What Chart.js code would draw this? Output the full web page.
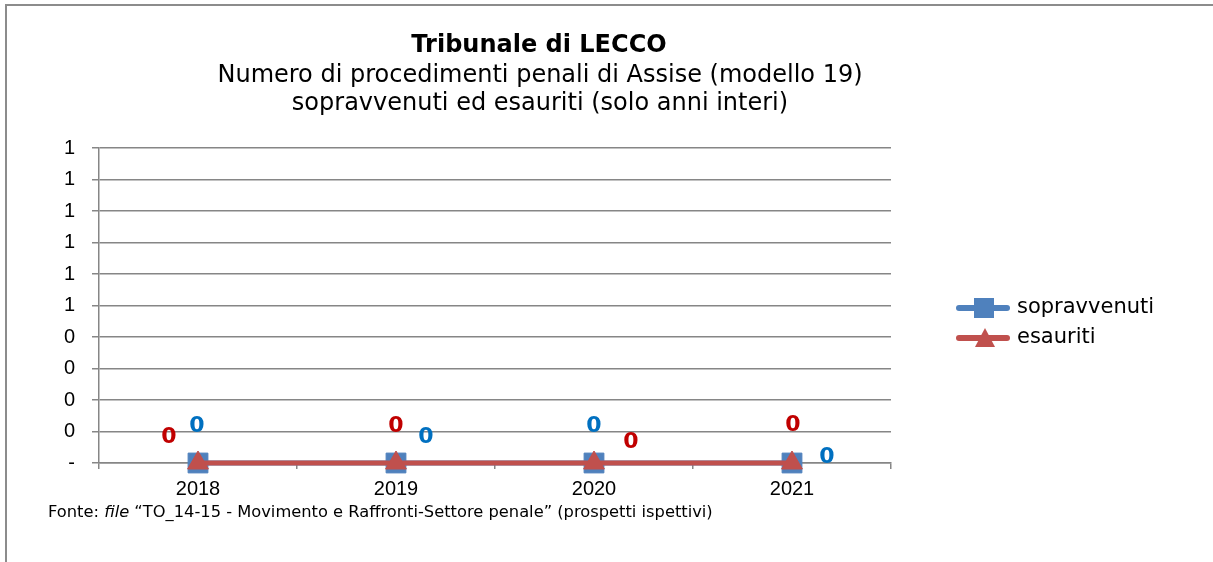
<!DOCTYPE html>
<html><head><meta charset="utf-8">
<script src="https://cdn.jsdelivr.net/npm/chart.js@4/dist/chart.umd.min.js"></script>
<style>html,body{margin:0;padding:0;background:#fff;} canvas{display:block;}</style>
</head><body><canvas id="c" width="1213" height="562"></canvas>
<script>
const categories = ['2018', '2019', '2020', '2021'];
const sopravvenuti = [0, 0, 0, 0];
const esauriti = [0, 0, 0, 0];
const yTickLabels = ['-', '0', '0', '0', '0', '1', '1', '1', '1', '1', '1'];
const seriesNames = ['sopravvenuti', 'esauriti'];
const titleText = 'Tribunale di LECCO';
const subtitleLines = ['Numero di procedimenti penali di Assise (modello 19)', 'sopravvenuti ed esauriti (solo anni interi)'];
const footParts = [['Fonte: ', ''], ['file', 'italic '], [' \u201CTO_14-15 - Movimento e Raffronti-Settore penale\u201D (prospetti ispettivi)', '']];

const BLUE = '#4F81BD', RED = '#C0504D';
const LBLUE = '#0070C0', LRED = '#C00000';
const GRID = '#868686';

const labelOffsets = {
  0: [[-1, -37], [30, -26], [0, -37], [35, -6]],
  1: [[-29, -26], [0, -37], [37, -21], [1, -38]]
};
const labelColors = [LBLUE, LRED];

const decor = {
  id: 'decor',
  beforeDraw(chart) {
    const ctx = chart.ctx;
    ctx.save();
    ctx.fillStyle = '#fff';
    ctx.fillRect(0, 0, chart.width, chart.height);
    ctx.strokeStyle = '#8c8c8c';
    ctx.lineWidth = 2;
    ctx.beginPath();
    ctx.moveTo(6, 563); ctx.lineTo(6, 5); ctx.lineTo(1213, 5);
    ctx.stroke();
    ctx.restore();
  },
  afterDatasetsDraw(chart) {
    const ctx = chart.ctx;
    ctx.save();
    ctx.font = 'bold 22px "DejaVu Sans", sans-serif';
    ctx.textAlign = 'center';
    ctx.textBaseline = 'middle';
    [1, 0].forEach(di => {
      const meta = chart.getDatasetMeta(di);
      const ds = chart.data.datasets[di];
      meta.data.forEach((pt, i) => {
        const off = labelOffsets[di][i];
        ctx.fillStyle = labelColors[di];
        ctx.fillText(String(Math.round(ds.data[i])), pt.x + off[0], pt.y + off[1]);
      });
    });
    ctx.restore();
  },
  afterDraw(chart) {
    const ctx = chart.ctx;
    ctx.save();
    ctx.fillStyle = '#000';
    ctx.textAlign = 'center';
    ctx.textBaseline = 'middle';
    ctx.font = 'bold 24px "DejaVu Sans", sans-serif';
    ctx.fillText(titleText, 539, 46);
    ctx.font = '24px "DejaVu Sans", sans-serif';
    subtitleLines.forEach((t, i) => ctx.fillText(t, 540, 76 + i * 28));

    // legend
    const colors = [BLUE, RED];
    seriesNames.forEach((name, i) => {
      const y = 308 + i * 30;
      ctx.strokeStyle = colors[i];
      ctx.lineWidth = 6;
      ctx.lineCap = 'round';
      ctx.beginPath(); ctx.moveTo(959, y); ctx.lineTo(1007, y); ctx.stroke();
      ctx.fillStyle = colors[i];
      if (i === 0) {
        ctx.fillRect(974, y - 10, 20, 20);
      } else {
        ctx.beginPath();
        ctx.moveTo(985, y - 10); ctx.lineTo(995, y + 9); ctx.lineTo(975, y + 9); ctx.closePath(); ctx.fill();
      }
      ctx.fillStyle = '#000';
      ctx.textAlign = 'left';
      ctx.font = '21px "DejaVu Sans", sans-serif';
      ctx.fillText(name, 1017, y);
    });

    // footnote
    let x = 48;
    ctx.textAlign = 'left';
    footParts.forEach(([t, st]) => {
      ctx.font = st + '16.3px "DejaVu Sans", sans-serif';
      ctx.fillText(t, x, 513);
      x += ctx.measureText(t).width;
    });
    ctx.restore();
  }
};

new Chart(document.getElementById('c'), {
  type: 'line',
  data: {
    labels: categories,
    datasets: [
      { label: seriesNames[0], data: sopravvenuti, borderColor: BLUE, backgroundColor: BLUE,
        borderWidth: 5, pointStyle: 'rect', pointRadius: 14, pointBorderWidth: 1,
        pointBorderColor: BLUE, pointBackgroundColor: BLUE, order: 1, clip: false, tension: 0 },
      { label: seriesNames[1], data: esauriti, borderColor: RED, backgroundColor: RED,
        borderWidth: 5, pointStyle: 'triangle', pointRadius: 12, pointBorderWidth: 1,
        pointBorderColor: RED, pointBackgroundColor: RED, order: 0, clip: false, tension: 0 }
    ]
  },
  options: {
    responsive: false,
    animation: false,
    devicePixelRatio: 1,
    layout: { padding: { left: 0, top: 148, right: 322, bottom: 0 } },
    plugins: { legend: { display: false }, title: { display: false }, tooltip: { enabled: false } },
    scales: {
      x: {
        offset: true,
        grid: { offset: true, drawOnChartArea: false, tickLength: 6, color: GRID, lineWidth: 1.5 },
        border: { color: GRID, width: 1.5 },
        ticks: { font: { family: '"Liberation Sans", Arial, sans-serif', size: 20 }, color: '#000', padding: 8, maxRotation: 0 },
        afterFit(s) { s.height = 99; }
      },
      y: {
        min: 0, max: 1,
        ticks: { stepSize: 0.1, callback: (v, i) => yTickLabels[i],
          font: { family: '"Liberation Sans", Arial, sans-serif', size: 20 }, color: '#000', padding: 17 },
        grid: { color: GRID, lineWidth: 1.5, tickLength: 7 },
        border: { color: GRID, width: 1.5 },
        afterFit(s) { s.width = 99; }
      }
    }
  },
  plugins: [decor]
});
</script>
</body></html>
